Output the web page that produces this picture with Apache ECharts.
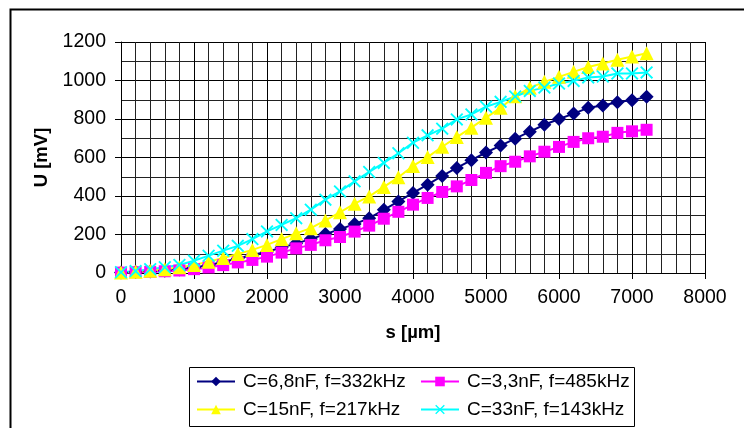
<!DOCTYPE html>
<html>
<head>
<meta charset="utf-8">
<title>U(s)</title>
<script src="https://cdn.jsdelivr.net/npm/echarts@6/dist/echarts.min.js"></script>
<style>
  html, body { margin: 0; padding: 0; background: #fff; }
  #chart { width: 744px; height: 428px; }
</style>
</head>
<body>
<div id="chart"></div>
<script>
// Positions s [µm], one point every 200 µm
var positions = [0, 200, 400, 600, 800, 1000, 1200, 1400, 1600, 1800,
    2000, 2200, 2400, 2600, 2800, 3000, 3200, 3400, 3600, 3800,
    4000, 4200, 4400, 4600, 4800, 5000, 5200, 5400, 5600, 5800,
    6000, 6200, 6400, 6600, 6800, 7000, 7200];

var seriesNames = ['C=6,8nF, f=332kHz', 'C=3,3nF, f=485kHz', 'C=15nF, f=217kHz', 'C=33nF, f=143kHz'];

// U [mV]
var u68nF = [2, 5, 8, 12, 18, 28, 40, 57, 75, 93,
    110, 132, 154, 176, 202, 228, 254, 285, 328, 372,
    416, 459, 504, 546, 586, 626, 662, 698, 734, 770,
    800, 828, 858, 870, 887, 898, 915];
var u33nF = [2, 4, 6, 9, 13, 20, 29, 41, 55, 68,
    85, 106, 128, 146, 170, 187, 215, 246, 282, 318,
    355, 390, 421, 450, 483, 520, 555, 578, 606, 630,
    655, 681, 700, 708, 728, 736, 744];
var u15nF = [3, 6, 12, 20, 30, 42, 59, 78, 99, 120,
    146, 176, 206, 233, 273, 315, 360, 398, 447, 497,
    556, 602, 656, 706, 755, 807, 858, 918, 962, 993,
    1019, 1045, 1070, 1088, 1108, 1125, 1142];
var u33nFbig = [4, 10, 20, 30, 42, 64, 90, 116, 141, 176,
    216, 250, 285, 329, 381, 424, 476, 525, 572, 622,
    677, 715, 750, 798, 824, 864, 889, 917, 946, 963,
    984, 998, 1016, 1021, 1036, 1037, 1042];

var colors = ['#000080', '#FF00FF', '#FFFF00', '#00FFFF'];
var font = 'Arial, "Liberation Sans", sans-serif';

// thin X marker for the 33nF series
var crossPath = 'path://M0,1 L1,0 L5,4 L9,0 L10,1 L6,5 L10,9 L9,10 L5,6 L1,10 L0,9 L4,5 Z';

function pairs(vals) {
    var out = [];
    for (var i = 0; i < positions.length; i++) {
        out.push([positions[i], vals[i]]);
    }
    return out;
}

var chart = echarts.init(document.getElementById('chart'));

var lineSeries = [
    { vals: u68nF, symbol: 'diamond', size: 14 },
    { vals: u33nF, symbol: 'rect', size: 12 },
    { vals: u15nF, symbol: 'triangle', size: 14 },
    { vals: u33nFbig, symbol: crossPath, size: 13 }
].map(function (s, i) {
    return {
        name: seriesNames[i],
        type: 'line',
        data: pairs(s.vals),
        symbol: s.symbol,
        symbolSize: s.size,
        showAllSymbol: true,
        animation: false,
        lineStyle: { color: colors[i], width: 2 },
        itemStyle: { color: colors[i], borderWidth: 0 }
    };
});

// one legend per entry so the two columns line up like the original
var legendPos = [[196, 372], [420, 372], [196, 400], [420, 400]];
var legends = seriesNames.map(function (n, i) {
    return {
        data: [n],
        left: legendPos[i][0],
        top: legendPos[i][1],
        padding: 0,
        itemWidth: 38,
        itemHeight: 12,
        selectedMode: false,
        textStyle: { fontSize: 19, color: '#000', fontFamily: font, padding: [0, 0, 0, 3] }
    };
});

function plain(v) { return String(v); }

chart.setOption({
    color: colors,
    animation: false,
    textStyle: { fontFamily: font },
    grid: { left: 121, right: 39, top: 42, bottom: 155 },
    legend: legends,
    xAxis: {
        type: 'value',
        min: 0,
        max: 8000,
        interval: 1000,
        name: 's [µm]',
        nameLocation: 'middle',
        nameGap: 50,
        nameTextStyle: { fontSize: 18.5, fontWeight: 'bold', color: '#000' },
        axisLine: { show: true, lineStyle: { color: '#000', width: 1 } },
        axisTick: { show: true, inside: false, length: 6, lineStyle: { color: '#000' } },
        axisLabel: { fontSize: 19.5, color: '#000', margin: 15, formatter: plain },
        splitLine: { show: true, lineStyle: { color: '#000', width: 1 } },
        minorTick: { show: false, splitNumber: 5 },
        minorSplitLine: { show: true, lineStyle: { color: '#222', width: 1 } }
    },
    yAxis: {
        type: 'value',
        min: 0,
        max: 1200,
        interval: 200,
        name: 'U [mV]',
        nameLocation: 'middle',
        nameGap: 60,
        nameTextStyle: { fontSize: 18.5, fontWeight: 'bold', color: '#000' },
        axisLine: { show: true, lineStyle: { color: '#000', width: 1 } },
        axisTick: { show: true, inside: false, length: 6, lineStyle: { color: '#000' } },
        axisLabel: { fontSize: 19.5, color: '#000', margin: 15, formatter: plain },
        splitLine: { show: true, lineStyle: { color: '#000', width: 1 } },
        minorTick: { show: false, splitNumber: 2 },
        minorSplitLine: { show: true, lineStyle: { color: '#222', width: 1 } }
    },
    graphic: [
        {
            // outer chart frame, runs past the right and bottom edges
            type: 'rect',
            shape: { x: 10.5, y: 9.5, width: 900, height: 600 },
            style: { fill: null, stroke: '#000', lineWidth: 2 },
            z: -1
        },
        {
            // legend box
            type: 'rect',
            shape: { x: 189.5, y: 367.5, width: 445, height: 59 },
            style: { fill: null, stroke: '#000', lineWidth: 1 },
            z: -1
        }
    ],
    series: lineSeries
});
</script>
</body>
</html>
